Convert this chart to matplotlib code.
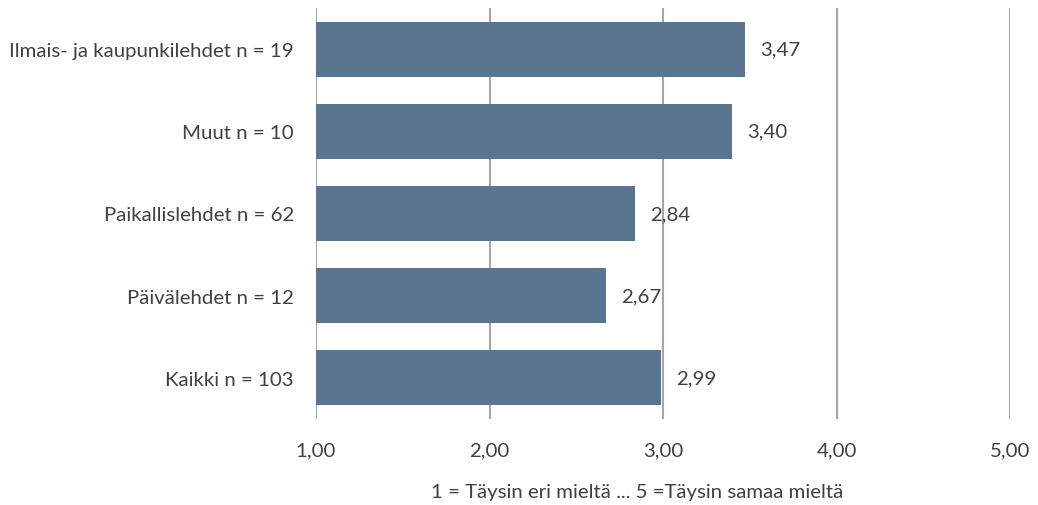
import matplotlib
matplotlib.use("Agg")
import matplotlib.pyplot as plt

categories = ["Ilmais- ja kaupunkilehdet n = 19", "Muut n = 10", "Paikallislehdet n = 62",
              "Päivälehdet n = 12", "Kaikki n = 103"]
values = [3.47, 3.40, 2.84, 2.67, 2.99]
x_ticks = [1, 2, 3, 4, 5]
x_label = "1 = Täysin eri mieltä ... 5 =Täysin samaa mieltä"

plt.rcParams["font.family"] = ["Lato", "DejaVu Sans"]
text_color = "#404040"
bar_color = "#5B7590"
grid_color = "#A6A6A6"
fs = 14.7

fig = plt.figure(figsize=(10.38, 5.06), dpi=100)
ax = fig.add_axes([316 / 1038, 1 - 420 / 506, (1010 - 316) / 1038, (420 - 9) / 506])

ypos = list(range(len(categories)))[::-1]
ax.barh(ypos, [v - 1 for v in values], left=1, height=0.67, color=bar_color, zorder=3)

for y, v in zip(ypos, values):
    ax.annotate(f"{v:.2f}".replace(".", ","), (v, y), xytext=(11, 0), textcoords="offset points",
                ha="left", va="center", fontsize=fs, color=text_color)

ax.set_xlim(1, 5)
ax.set_ylim(-0.5, len(categories) - 0.5)
ax.set_xticks(x_ticks)
ax.set_xticklabels([f"{t:.2f}".replace(".", ",") for t in x_ticks], fontsize=fs, color=text_color)
ax.set_yticks(ypos)
ax.set_yticklabels(categories, fontsize=fs, color=text_color)
ax.tick_params(axis="both", length=0)
ax.tick_params(axis="x", pad=16)
ax.tick_params(axis="y", pad=16)

ax.grid(axis="x", color=grid_color, linewidth=1.5, zorder=0)
for s in ax.spines.values():
    s.set_visible(False)

fig.text(637 / 1038, 1 - 493 / 506, x_label, ha="center", va="center", fontsize=fs, color=text_color)

fig.savefig("out.png", dpi=100, facecolor="white")
